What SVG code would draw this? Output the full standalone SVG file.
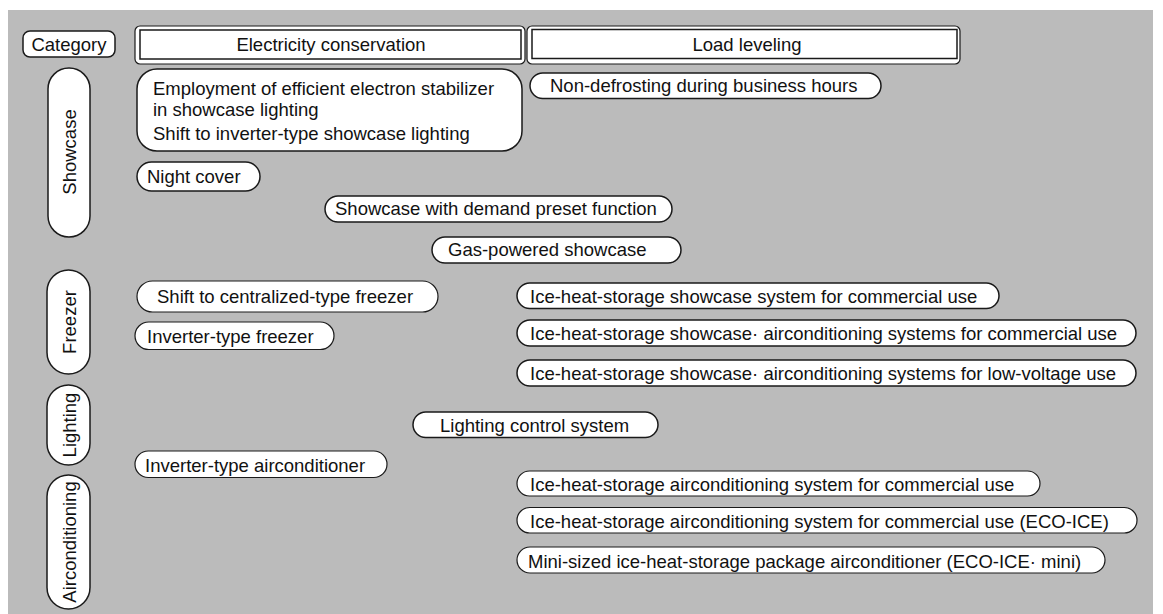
<svg xmlns="http://www.w3.org/2000/svg" width="1163" height="614" viewBox="0 0 1163 614">
<style>
.bg{fill:#bbbbbb}
.box{fill:#ffffff;stroke:#1a1a1a;stroke-width:1.5}
.thin{fill:#ffffff;stroke:#1a1a1a;stroke-width:1.2}
text{font-family:"Liberation Sans",Arial,sans-serif;font-size:18.5px;fill:#111111}
.c{text-anchor:middle}
</style>
<rect class="bg" x="8" y="10" width="1145" height="604"/>

<g id="header-category">
<rect class="box" x="23" y="31" width="92" height="26" rx="7"/>
<text class="c" x="69" y="50.5">Category</text>
</g>
<g id="header-electricity">
<rect class="thin" x="135" y="26" width="390" height="38" rx="5"/>
<rect class="box" x="140" y="30" width="381" height="29"/>
<text class="c" x="331" y="50.5">Electricity conservation</text>
</g>
<g id="header-load">
<rect class="thin" x="527" y="26" width="433" height="38" rx="5"/>
<rect class="box" x="532" y="29.5" width="425" height="29"/>
<text class="c" x="747" y="50.5">Load leveling</text>
</g>

<g id="cat-showcase">
<rect class="box" x="48" y="68" width="42" height="169" rx="21"/>
<text class="c" transform="translate(75.5,152) rotate(-90)">Showcase</text>
</g>
<g id="cat-freezer">
<rect class="box" x="47" y="270" width="43" height="104" rx="21.5"/>
<text class="c" transform="translate(75.5,322) rotate(-90)">Freezer</text>
</g>
<g id="cat-lighting">
<rect class="box" x="47" y="385" width="43" height="80" rx="21.5"/>
<text class="c" transform="translate(75.5,425) rotate(-90)">Lighting</text>
</g>
<g id="cat-aircon">
<rect class="box" x="47" y="475" width="43" height="134" rx="21.5"/>
<text class="c" transform="translate(75.5,542) rotate(-90)">Airconditioning</text>
</g>

<g id="n-employment">
<rect class="box" x="137" y="69" width="385" height="82" rx="20"/>
<text x="153" y="95">Employment of efficient electron stabilizer</text>
<text x="153" y="116">in showcase lighting</text>
<text x="153" y="140">Shift to inverter-type showcase lighting</text>
</g>
<g id="n-nondefrost">
<rect class="box" x="530" y="73" width="351" height="25.5" rx="12.75"/>
<text x="550" y="92">Non-defrosting during business hours</text>
</g>
<g id="n-nightcover">
<rect class="box" x="137" y="162" width="123" height="29" rx="14.5"/>
<text x="147" y="182.5">Night cover</text>
</g>
<g id="n-demand">
<rect class="box" x="325" y="196" width="347" height="26" rx="13"/>
<text x="335" y="215">Showcase with demand preset function</text>
</g>
<g id="n-gas">
<rect class="box" x="432" y="237" width="249" height="26" rx="13"/>
<text x="448" y="256">Gas-powered showcase</text>
</g>
<g id="n-centralized">
<rect class="thin" x="137" y="281" width="301" height="31" rx="15.5"/>
<text x="157" y="302.5">Shift to centralized-type freezer</text>
</g>
<g id="n-invfreezer">
<rect class="thin" x="135" y="322" width="199" height="27.5" rx="13.75"/>
<text x="147" y="342.5">Inverter-type freezer</text>
</g>
<g id="n-ice-showcase">
<rect class="box" x="517" y="283" width="482" height="25.5" rx="12.75"/>
<text x="530" y="302.5">Ice-heat-storage showcase system for commercial use</text>
</g>
<g id="n-ice-sc-ac-comm">
<rect class="box" x="517" y="320" width="619" height="26" rx="13"/>
<text x="530" y="340">Ice-heat-storage showcase· airconditioning systems for commercial use</text>
</g>
<g id="n-ice-sc-ac-low">
<rect class="box" x="517" y="360" width="619" height="26" rx="13"/>
<text x="530" y="380">Ice-heat-storage showcase· airconditioning systems for low-voltage use</text>
</g>
<g id="n-lightingctrl">
<rect class="box" x="413" y="412" width="245" height="25.5" rx="12.75"/>
<text x="440" y="431.5">Lighting control system</text>
</g>
<g id="n-invac">
<rect class="thin" x="135" y="451" width="252" height="26.5" rx="13.25"/>
<text x="145" y="471.5">Inverter-type airconditioner</text>
</g>
<g id="n-ice-ac-comm">
<rect class="thin" x="517" y="471" width="523" height="25" rx="12.5"/>
<text x="530" y="490.5">Ice-heat-storage airconditioning system for commercial use</text>
</g>
<g id="n-ice-ac-eco">
<rect class="thin" x="517" y="507.5" width="620" height="25.5" rx="12.75"/>
<text x="530" y="528">Ice-heat-storage airconditioning system for commercial use (ECO-ICE)</text>
</g>
<g id="n-mini">
<rect class="thin" x="517" y="547" width="588" height="26" rx="13"/>
<text x="528" y="567.5">Mini-sized ice-heat-storage package airconditioner (ECO-ICE· mini)</text>
</g>
</svg>
